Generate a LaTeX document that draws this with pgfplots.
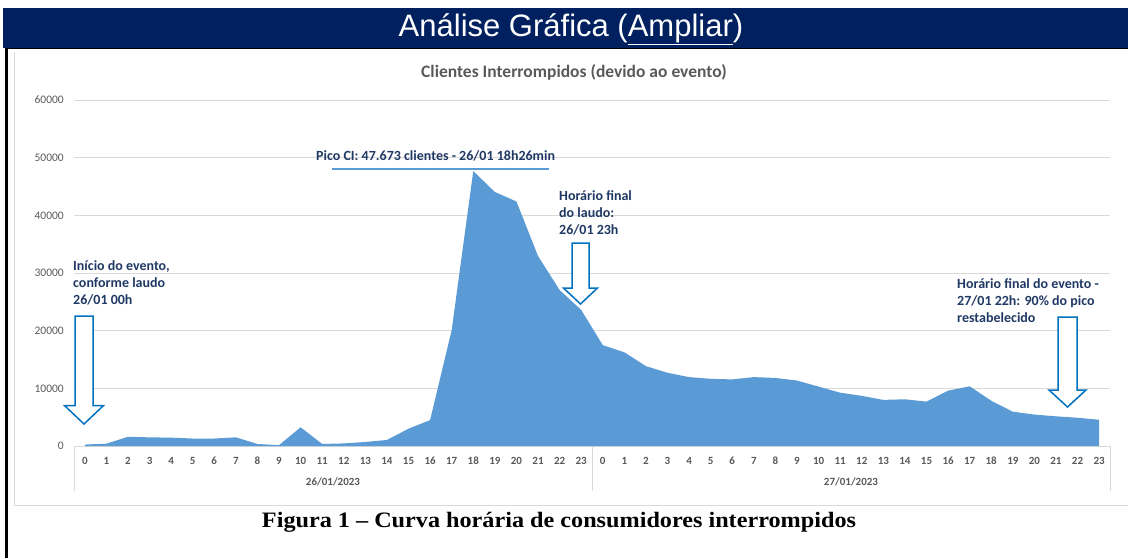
\documentclass[border=0pt]{standalone}
\usepackage{fontspec}
\setmainfont{Carlito}
\newfontfamily\arialf{Liberation Sans}
\newfontfamily\serifb{Liberation Serif}
\usepackage{pgfplots}
\pgfplotsset{compat=1.18}
\definecolor{navy}{HTML}{002060}
\definecolor{areablue}{HTML}{5B9BD5}
\definecolor{arrowblue}{HTML}{0070C0}
\definecolor{annot}{HTML}{1F3864}
\definecolor{tickgray}{HTML}{595959}
\definecolor{gridgray}{HTML}{D9D9D9}
\begin{document}
\begin{tikzpicture}[x=1pt,y=1pt]
\useasboundingbox (0,0) rectangle (1128,-558);
% header bar
\fill[navy] (3,-8) rectangle (1128,-47.5);
\node[text=white, font=\arialf\fontsize{31}{33}\selectfont, inner sep=0] at (571,-29) {Análise Gráfica (\underline{Ampliar})};
\draw[black, line width=1.6pt] (5,-48.5) -- (1128,-48.5);
\draw[black, line width=3pt] (6.5,-48) -- (6.5,-558);
% chart area border
\draw[gridgray, line width=1pt] (14.5,-52) -- (14.5,-505.5) -- (1128,-505.5);
% chart title
\node[text=tickgray, font=\bfseries\fontsize{17.5}{19}\selectfont, inner sep=0] at (574,-72) {Clientes Interrompidos (devido ao evento)};
\begin{axis}[
  at={(74pt,-446pt)}, anchor=south west,
  width=1036pt, height=346pt, scale only axis,
  xmin=-0.5, xmax=47.5, ymin=0, ymax=60000,
  axis x line*=bottom, axis y line*=left,
  x axis line style={draw=gridgray, line width=1pt, -},
  y axis line style={draw=none},
  major tick length=0pt,
  ytick={0,10000,20000,30000,40000,50000,60000},
  ymajorgrids, grid style={gridgray, line width=0.8pt},
  xtick={0,...,47},
  xticklabels={0,1,2,3,4,5,6,7,8,9,10,11,12,13,14,15,16,17,18,19,20,21,22,23,0,1,2,3,4,5,6,7,8,9,10,11,12,13,14,15,16,17,18,19,20,21,22,23},
  xticklabel style={font=\bfseries\fontsize{11}{11}\selectfont, text=tickgray, anchor=center, yshift=-15pt, inner sep=0},
  yticklabel style={font=\fontsize{11.5}{12}\selectfont, text=tickgray, anchor=east, xshift=-10pt, inner sep=0},
  /pgf/number format/assume math mode=true,
  scaled y ticks=false,
  yticklabel={\pgfmathprintnumber[fixed, set thousands separator={}]{\tick}},
  clip=false,
]
\addplot[fill=areablue, draw=none] coordinates {
(0,250) (1,400) (2,1600) (3,1500) (4,1450) (5,1300) (6,1300) (7,1500) (8,350) (9,150) (10,3250) (11,350) (12,450) (13,700) (14,1050) (15,3000) (16,4500) (17,20100) (18,47673) (19,44050) (20,42400) (21,32950) (22,27050) (23,23600)
(24,17500) (25,16250) (26,13850) (27,12700) (28,11950) (29,11650) (30,11550) (31,11950) (32,11800) (33,11350) (34,10300) (35,9250) (36,8700) (37,8000) (38,8100) (39,7700) (40,9600) (41,10350) (42,7850) (43,5950) (44,5450) (45,5150) (46,4900) (47,4550)
} \closedcycle;
\end{axis}
% category separators
\draw[gridgray, line width=1pt] (74,-446) -- (74,-491) (592,-446) -- (592,-491) (1110,-446) -- (1110,-491);
\node[text=tickgray, font=\bfseries\fontsize{11}{11}\selectfont, inner sep=0] at (333,-482) {26/01/2023};
\node[text=tickgray, font=\bfseries\fontsize{11}{11}\selectfont, inner sep=0] at (851,-482) {27/01/2023};
% annotations
\tikzset{ann/.style={text=annot, font=\bfseries\fontsize{14}{17}\selectfont, inner sep=0, anchor=west, text height=10pt, text depth=3pt}}
\node[ann] at (73,-267) {Início do evento,};
\node[ann] at (73,-284) {conforme laudo};
\node[ann] at (73,-301) {26/01 00h};
\node[ann] at (559,-197) {Horário final};
\node[ann] at (559,-214) {do laudo:};
\node[ann] at (559,-231) {26/01 23h};
\node[ann] at (957,-285) {Horário final do evento -};
\node[ann] at (957,-302) {27/01 22h: 90\% do pico};
\node[ann] at (957,-319) {restabelecido};
\node[ann] at (316,-157) {Pico CI: 47.673 clientes - 26/01 18h26min};
\draw[areablue, line width=2pt] (332,-169) -- (549,-169);
% arrows
\draw[arrowblue, line width=1.5pt, fill=white, line join=miter] (75,-316) -- (93,-316) -- (93,-405.5) -- (103.5,-405.5) -- (84,-424) -- (64.5,-405.5) -- (75,-405.5) -- cycle;
\draw[arrowblue, line width=1.5pt, fill=white, line join=miter] (572,-243) -- (589,-243) -- (589,-288) -- (597.5,-288) -- (580.5,-304) -- (563.5,-288) -- (572,-288) -- cycle;
\draw[arrowblue, line width=1.5pt, fill=white, line join=miter] (1058,-317) -- (1077,-317) -- (1077,-390) -- (1086,-390) -- (1067.5,-407) -- (1049,-390) -- (1058,-390) -- cycle;
% caption
\node[text=black, inner sep=0] at (559,-522) {\scalebox{1.1}[1]{\serifb\bfseries\fontsize{22}{24}\selectfont Figura 1 – Curva horária de consumidores interrompidos}};
\end{tikzpicture}
\end{document}
